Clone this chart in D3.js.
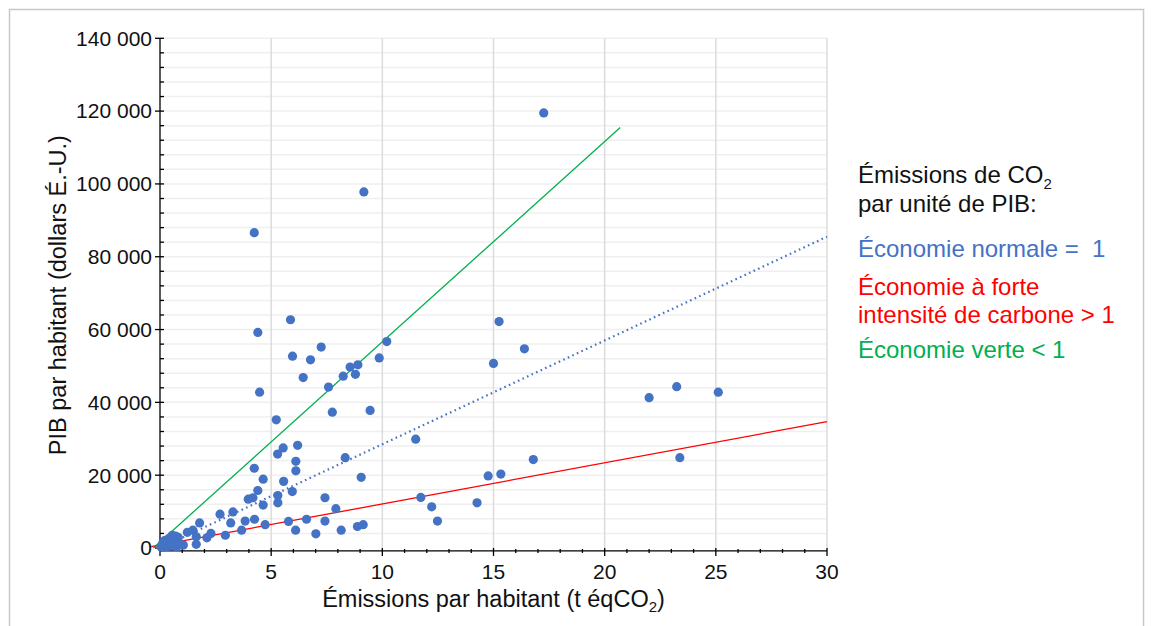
<!DOCTYPE html>
<html><head><meta charset="utf-8">
<script src="https://cdn.jsdelivr.net/npm/d3@7"></script>
<style>body{margin:0;background:#fff}svg{display:block}text{font-family:"Liberation Sans",Arial,sans-serif}</style>
</head><body><svg id="c" width="1153" height="626"></svg>
<script>
// Emissions per capita (t CO2e) and GDP per capita (USD)
const emissions = [17.26,9.17,4.24,4.40,5.87,5.96,6.77,7.25,6.44,4.48,7.58,8.24,8.55,8.90,8.79,9.86,10.20,7.75,9.45,5.23,5.54,6.19,11.5,
 15.25,16.39,15.0,22.0,23.24,25.11,16.79,23.38,14.76,15.33,11.73,12.22,12.48,14.26,
 5.29,6.11,6.11,4.24,4.64,5.56,8.33,9.05,4.40,3.97,4.18,5.30,5.30,4.64,5.95,7.42,7.91,3.28,2.70,3.18,3.83,4.25,4.73,5.78,6.59,7.42,6.10,7.01,8.15,8.88,9.14,3.67,1.78,2.94,2.29,2.11,1.48,1.23,1.63,1.63,1.05,0.82,0.48,
 0.05,0.15,0.25,0.35,0.45,0.55,0.65,0.75,0.20,0.40,0.60,0.55,0.30,0.90,0.12,0.70];
const gdp = [119500,97800,86600,59200,62700,52700,51700,55200,46800,42800,44200,47200,49700,50300,47700,52200,56700,37300,37800,35200,27500,28200,29900,
 62200,54700,50700,41300,44300,42800,24300,24800,19800,20300,13900,11300,7400,12400,
 25800,23800,21200,21900,18900,18300,24800,19400,15800,13400,13800,14400,12400,11800,15500,13800,10800,9900,9300,6900,7400,7900,6400,7300,7900,7400,4900,3900,4900,5900,6400,4900,6900,3500,4000,2800,4900,4300,3100,1000,800,2900,2900,
 300,200,900,400,1500,600,1100,300,2000,2600,2100,3500,600,1200,1300,3300];
// reference lines: [emissions, gdp]
const normalLine = [[0, 0], [30, 85500]];
const carbonLine = [[-0.4, 350], [30, 34700]];
const greenLine = [[-0.3, 0], [20.7, 115500]];
const xTicks = [0,5,10,15,20,25,30];
const yTicks = [0,20000,40000,60000,80000,100000,120000,140000];
const xTitle = "Émissions par habitant (t éqCO";
const yTitle = "PIB par habitant (dollars É.-U.)";
const legendHead = ["Émissions de CO", "par unité de PIB:"];
const legendItems = [
  {lines:["Économie normale =\u00a0\u00a01"], color:"#4472C4"},
  {lines:["Économie à forte","intensité de carbone > 1"], color:"#FF0000"},
  {lines:["Économie verte < 1"], color:"#00B050"}
];

const svg = d3.select("#c");
svg.append("rect").attr("x",9.5).attr("y",9.5).attr("width",1134).attr("height",640)
  .attr("fill","none").attr("stroke","#c8c8c8").attr("stroke-width",1.5);

const x = d3.scaleLinear().domain([0,30]).range([160,827]);
const y = d3.scaleLinear().domain([0,140000]).range([548,38.3]);
const yBottom = y(-800);
const fr = d3.formatLocale({decimal:",",thousands:"\u00a0",grouping:[3],currency:["",""]}).format(",");

// grid
const g = svg.append("g");
g.selectAll("line.h").data(d3.range(4000,140001,4000)).join("line")
  .attr("x1",x(0)).attr("x2",x(30)).attr("y1",d=>y(d)).attr("y2",d=>y(d))
  .attr("stroke","#efefef").attr("stroke-width",1.5);
g.selectAll("line.v").data(xTicks.slice(1)).join("line")
  .attr("x1",d=>x(d)).attr("x2",d=>x(d)).attr("y1",y(140000)).attr("y2",yBottom)
  .attr("stroke","#dcdcdc").attr("stroke-width",1.5);

// axes
const ax = svg.append("g").attr("stroke","#000").attr("stroke-width",1.3);
ax.append("line").attr("x1",x(0)).attr("x2",x(0)).attr("y1",y(140000)).attr("y2",yBottom);
ax.append("line").attr("x1",x(0)).attr("x2",x(30)).attr("y1",yBottom).attr("y2",yBottom);
ax.selectAll("line.ym").data(d3.range(0,140001,4000)).join("line")
  .attr("x1",d=>d%20000===0?x(0)-5:x(0)).attr("x2",x(0)+4)
  .attr("y1",d=>y(d)).attr("y2",d=>y(d));
ax.selectAll("line.xm").data(d3.range(0,31,1)).join("line")
  .attr("x1",d=>x(d)).attr("x2",d=>x(d))
  .attr("y1",d=>d%5===0?yBottom-3:yBottom-2).attr("y2",d=>d%5===0?yBottom+5:yBottom+2);

svg.selectAll("text.yt").data(yTicks).join("text")
  .attr("x",x(0)-8).attr("y",d=>y(d)).attr("dy","0.35em").attr("text-anchor","end")
  .attr("font-size",21).attr("fill","#111").text(d=>fr(d));
svg.selectAll("text.xt").data(xTicks).join("text")
  .attr("x",d=>x(d)).attr("y",579).attr("text-anchor","middle")
  .attr("font-size",21).attr("fill","#111").text(d=>d);

// titles
const xt = svg.append("text").attr("x",(x(0)+x(30))/2).attr("y",607).attr("text-anchor","middle")
  .attr("font-size",23.5).attr("fill","#111");
xt.append("tspan").text(xTitle);
xt.append("tspan").attr("font-size",15).attr("dy",5).text("2");
xt.append("tspan").attr("dy",-5).text(")");
svg.append("text").attr("transform",`translate(66,${(y(0)+y(140000))/2+2}) rotate(-90)`)
  .attr("text-anchor","middle").attr("font-size",23.5).attr("fill","#111").text(yTitle);

// reference lines
const line = d3.line().x(d=>x(d[0])).y(d=>y(d[1]));
svg.append("path").attr("d",line(greenLine)).attr("stroke","#00B050").attr("stroke-width",1.3).attr("fill","none");
svg.append("path").attr("d",line(carbonLine)).attr("stroke","#FF0000").attr("stroke-width",1.3).attr("fill","none");
svg.append("path").attr("d",line(normalLine)).attr("stroke","#4472C4").attr("stroke-width",2.2)
  .attr("stroke-dasharray","1.6,3.4").attr("fill","none");

// points
svg.selectAll("circle").data(emissions.map((e,i)=>[e,gdp[i]])).join("circle")
  .attr("cx",d=>x(d[0])).attr("cy",d=>y(d[1])).attr("r",4.6).attr("fill","#4472C4");

// legend
const L = svg.append("g").attr("font-size",24);
const h1 = L.append("text").attr("x",858).attr("y",183).attr("fill","#111");
h1.append("tspan").text(legendHead[0]);
h1.append("tspan").attr("font-size",15).attr("dy",6).text("2");
L.append("text").attr("x",858).attr("y",212).attr("fill","#111").text(legendHead[1]);
const ys = [[257],[295,323],[358]];
legendItems.forEach((it,i)=>{
  it.lines.forEach((t,j)=>{
    L.append("text").attr("x",858).attr("y",ys[i][j]).attr("fill",it.color).text(t);
  });
});
</script></body></html>
